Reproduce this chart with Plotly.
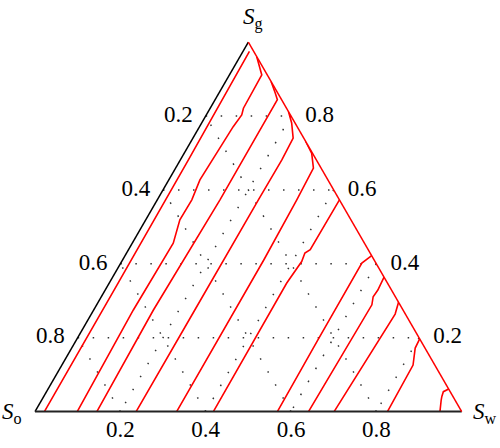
import plotly.graph_objects as go

# ---- data: contour lines as (S_g, S_w) pairs; S_o = 1 - S_g - S_w ----
c1_sg = [0.0, 0.34, 0.681, 0.975]
c1_sw = [0.022, 0.021, 0.019, 0.015]
c2_sg = [0.0, 0.275, 0.456, 0.519, 0.573, 0.627, 0.771, 0.803, 0.821, 0.911, 0.961]
c2_sw = [0.099, 0.093, 0.096, 0.080, 0.081, 0.073, 0.079, 0.083, 0.078, 0.076, 0.039]
c3_sg = [0.0, 0.275, 0.573, 0.844, 0.862, 0.893]
c3_sw = [0.145, 0.140, 0.147, 0.146, 0.132, 0.107]
c4_sg = [0.0, 0.275, 0.573, 0.681, 0.740, 0.781, 0.812]
c4_sw = [0.237, 0.237, 0.237, 0.238, 0.235, 0.211, 0.188]
c5_sg = [0.0, 0.411, 0.573, 0.659, 0.699, 0.731]
c5_sw = [0.332, 0.331, 0.327, 0.323, 0.299, 0.269]
c6_sg = [0.0, 0.348, 0.406, 0.429, 0.438, 0.573]
c6_sw = [0.418, 0.416, 0.422, 0.418, 0.426, 0.427]
c7_sg = [0.0, 0.194, 0.402, 0.422]
c7_sw = [0.568, 0.566, 0.565, 0.578]
c8_sg = [0.0, 0.289, 0.311, 0.329, 0.364]
c8_sw = [0.641, 0.645, 0.637, 0.639, 0.636]
c9_sg = [0.0, 0.264, 0.296]
c9_sw = [0.701, 0.712, 0.704]
c10_sg = [0.0, 0.126, 0.172, 0.197]
c10_sw = [0.826, 0.823, 0.805, 0.803]
c11_sg = [0.0, 0.032, 0.041, 0.054, 0.061]
c11_sw = [0.949, 0.936, 0.933, 0.930, 0.939]

tick_vals = [0.2, 0.4, 0.6, 0.8]

contours = [
    (c1_sg, c1_sw), (c2_sg, c2_sw), (c3_sg, c3_sw), (c4_sg, c4_sw),
    (c5_sg, c5_sw), (c6_sg, c6_sw), (c7_sg, c7_sw), (c8_sg, c8_sw),
    (c9_sg, c9_sw), (c10_sg, c10_sw), (c11_sg, c11_sw),
]

fig = go.Figure()
for sg, sw in contours:
    so = [1 - g - w for g, w in zip(sg, sw)]
    fig.add_trace(go.Scatterternary(
        a=sg, b=so, c=sw, mode="lines",
        line=dict(color="#ff0000", width=1.6),
        hoverinfo="skip", showlegend=False,
    ))

labfont = dict(family="Liberation Serif", size=23, color="black")
clear = "rgba(0,0,0,0)"
txt = [f"{v:.1f}" for v in tick_vals]

# S_o scale along the left edge
fig.add_trace(go.Scatterternary(
    a=[1 - v for v in tick_vals], b=tick_vals, c=[0] * 4, text=txt,
    mode="markers+text", textposition="middle left", textfont=labfont,
    marker=dict(size=19, color=clear), cliponaxis=False,
    hoverinfo="skip", showlegend=False))
# S_g scale along the right edge
fig.add_trace(go.Scatterternary(
    a=tick_vals, b=[0] * 4, c=[1 - v for v in tick_vals], text=txt,
    mode="markers+text", textposition="middle right", textfont=labfont,
    marker=dict(size=21, color=clear), cliponaxis=False,
    hoverinfo="skip", showlegend=False))
# S_w scale along the bottom edge
fig.add_trace(go.Scatterternary(
    a=[0] * 4, b=[1 - v for v in tick_vals], c=tick_vals, text=txt,
    mode="markers+text", textposition="bottom center", textfont=labfont,
    marker=dict(size=12, color=clear), cliponaxis=False,
    hoverinfo="skip", showlegend=False))

grid = dict(showgrid=True, gridcolor="#333333", griddash="1.5px,13.5px", gridwidth=1.5,
            tickmode="array", tickvals=tick_vals, ticks="", showticklabels=False,
            title=dict(text=""))

fig.update_layout(
    width=500, height=448,
    margin=dict(l=0, r=0, t=0, b=0),
    paper_bgcolor="white",
    showlegend=False,
    ternary=dict(
        sum=1,
        bgcolor="white",
        domain=dict(x=[0.07, 0.9234], y=[0.081, 0.9063]),
        aaxis=dict(linecolor="black", linewidth=1.5, **grid),
        baxis=dict(linecolor="#222222", linewidth=2, **grid),
        caxis=dict(linecolor="#ff0000", linewidth=1.5, **grid),
    ),
    annotations=[
        dict(text="<i>S</i><sub>g</sub>", x=0.505, y=0.958, xref="paper", yref="paper",
             xanchor="center", yanchor="middle", showarrow=False,
             font=dict(family="Liberation Serif", size=23, color="black")),
        dict(text="<i>S</i><sub>o</sub>", x=0.023, y=0.078, xref="paper", yref="paper",
             xanchor="center", yanchor="middle", showarrow=False,
             font=dict(family="Liberation Serif", size=23, color="black")),
        dict(text="<i>S</i><sub>w</sub>", x=0.97, y=0.078, xref="paper", yref="paper",
             xanchor="center", yanchor="middle", showarrow=False,
             font=dict(family="Liberation Serif", size=23, color="black")),
    ],
)

fig.write_html(
    "out.html",
    config={"displayModeBar": False, "staticPlot": True},
    post_script="document.body.style.margin='0';document.body.style.overflow='hidden';",
)
